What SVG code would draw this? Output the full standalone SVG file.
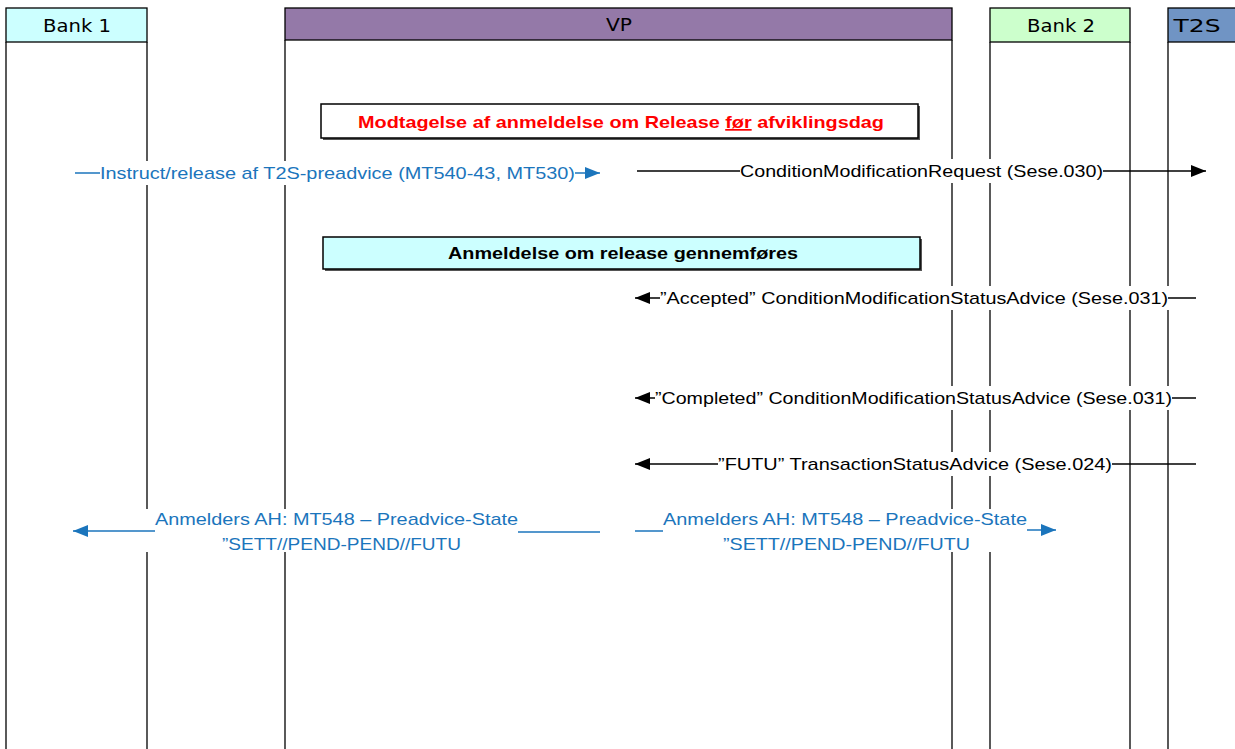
<svg xmlns="http://www.w3.org/2000/svg" width="1235" height="749" viewBox="0 0 1235 749">
<defs>
<style>
.hdr{stroke:#000;stroke-width:1.3}
.ll{stroke:#000;stroke-width:1.3}
.ht{font-family:"DejaVu Sans",Verdana,sans-serif;font-size:18px;fill:#000;text-anchor:middle}
.lb{font-family:"Liberation Sans",Arial,sans-serif;font-size:17px}
.blk{fill:#000}
.blu{fill:#1B75BC}
.bg{fill:#fff}
.ml{stroke:#000;stroke-width:1.5;fill:none}
.bl{stroke:#1B75BC;stroke-width:1.5;fill:none}
.box{stroke:#000;stroke-width:1.5}
.bt{font-family:"Liberation Sans",Arial,sans-serif;font-size:17px;font-weight:bold;text-anchor:middle}
</style>
<marker id="ah" markerWidth="16" markerHeight="12" refX="15" refY="6" orient="auto" markerUnits="userSpaceOnUse"><path d="M0,0 L15,6 L0,12 Z" fill="#000"/></marker>
<marker id="ahb" markerWidth="16" markerHeight="12" refX="15" refY="6" orient="auto" markerUnits="userSpaceOnUse"><path d="M0,0 L15,6 L0,12 Z" fill="#1B75BC"/></marker>
</defs>
<rect width="1235" height="749" fill="#fff"/>

<g id="bank1">
<rect class="hdr" x="6" y="8" width="141" height="34" fill="#CCFFFF"/>
<line class="ll" x1="6" y1="42" x2="6" y2="749"/>
<line class="ll" x1="147" y1="42" x2="147" y2="749"/>
<text class="ht" x="77" y="32" textLength="68" lengthAdjust="spacingAndGlyphs">Bank 1</text>
</g>
<g id="vp">
<rect class="hdr" x="285" y="8" width="667" height="32" fill="#9479A8"/>
<line class="ll" x1="285" y1="40" x2="285" y2="749"/>
<line class="ll" x1="952" y1="40" x2="952" y2="749"/>
<text class="ht" x="619" y="31" textLength="26" lengthAdjust="spacingAndGlyphs">VP</text>
</g>
<g id="bank2">
<rect class="hdr" x="990" y="8" width="140" height="34" fill="#CCFFCC"/>
<line class="ll" x1="990" y1="42" x2="990" y2="749"/>
<line class="ll" x1="1130" y1="42" x2="1130" y2="749"/>
<text class="ht" x="1061" y="32" textLength="68" lengthAdjust="spacingAndGlyphs">Bank 2</text>
</g>
<g id="t2s">
<rect class="hdr" x="1168" y="8" width="80" height="34" fill="#7094C4"/>
<line class="ll" x1="1168" y1="42" x2="1168" y2="749"/>
<text class="ht" x="1197" y="32" textLength="47" lengthAdjust="spacingAndGlyphs">T2S</text>
</g>

<g id="note-release">
<rect x="323" y="106" width="597" height="34" fill="#555"/>
<rect class="box" x="321" y="104" width="597" height="34" fill="#fff"/>
<text class="bt" x="621" y="128" fill="#FF0000" textLength="526" lengthAdjust="spacingAndGlyphs">Modtagelse af anmeldelse om Release <tspan text-decoration="underline">før</tspan> afviklingsdag</text>
</g>
<g id="note-gennemfoeres">
<rect x="325" y="239" width="597" height="32" fill="#555"/>
<rect class="box" x="323" y="237" width="597" height="32" fill="#CCFFFF"/>
<text class="bt blk" x="623" y="259" textLength="350" lengthAdjust="spacingAndGlyphs">Anmeldelse om release gennemføres</text>
</g>

<g id="label-backgrounds">
<rect class="bg" x="98" y="161" width="480" height="24"/>
<rect class="bg" x="738" y="159" width="368" height="24"/>
<rect class="bg" x="658" y="286" width="514" height="24"/>
<rect class="bg" x="653" y="386" width="522" height="24"/>
<rect class="bg" x="716" y="452" width="399" height="24"/>
<rect class="bg" x="140" y="509" width="385" height="43"/>
<rect class="bg" x="640" y="509" width="392" height="43"/>
</g>

<g id="connectors">
<line class="bl" x1="75" y1="173" x2="100" y2="173"/>
<line class="bl" x1="575" y1="173" x2="600" y2="173" marker-end="url(#ahb)"/>
<text class="lb blu" x="100" y="179" textLength="475" lengthAdjust="spacingAndGlyphs">Instruct/release af T2S-preadvice (MT540-43, MT530)</text>

<line class="ml" x1="637" y1="171" x2="740" y2="171"/>
<line class="ml" x1="1103" y1="171" x2="1206" y2="171" marker-end="url(#ah)"/>
<text class="lb blk" x="740" y="177" textLength="363" lengthAdjust="spacingAndGlyphs">ConditionModificationRequest (Sese.030)</text>

<line class="ml" x1="660" y1="298" x2="635" y2="298" marker-end="url(#ah)"/>
<line class="ml" x1="1168" y1="298" x2="1196" y2="298"/>
<text class="lb blk" x="660" y="304" textLength="508" lengthAdjust="spacingAndGlyphs">”Accepted” ConditionModificationStatusAdvice (Sese.031)</text>

<line class="ml" x1="655" y1="398" x2="635" y2="398" marker-end="url(#ah)"/>
<line class="ml" x1="1172" y1="398" x2="1196" y2="398"/>
<text class="lb blk" x="655" y="404" textLength="517" lengthAdjust="spacingAndGlyphs">”Completed” ConditionModificationStatusAdvice (Sese.031)</text>

<line class="ml" x1="718" y1="464" x2="635" y2="464" marker-end="url(#ah)"/>
<line class="ml" x1="1112" y1="464" x2="1196" y2="464"/>
<text class="lb blk" x="718" y="470" textLength="394" lengthAdjust="spacingAndGlyphs">”FUTU” TransactionStatusAdvice (Sese.024)</text>

<line class="bl" x1="155" y1="531" x2="73" y2="531" marker-end="url(#ahb)"/>
<line class="bl" x1="518" y1="532" x2="600" y2="532"/>
<text class="lb blu" x="155" y="525" textLength="363" lengthAdjust="spacingAndGlyphs">Anmelders AH: MT548 – Preadvice-State</text>
<text class="lb blu" x="222" y="550" textLength="239" lengthAdjust="spacingAndGlyphs">”SETT//PEND-PEND//FUTU</text>

<line class="bl" x1="635" y1="531" x2="663" y2="531"/>
<line class="bl" x1="1027" y1="530" x2="1056" y2="530" marker-end="url(#ahb)"/>
<text class="lb blu" x="663" y="525" textLength="364" lengthAdjust="spacingAndGlyphs">Anmelders AH: MT548 – Preadvice-State</text>
<text class="lb blu" x="723" y="550" textLength="247" lengthAdjust="spacingAndGlyphs">”SETT//PEND-PEND//FUTU</text>
</g>
</svg>
